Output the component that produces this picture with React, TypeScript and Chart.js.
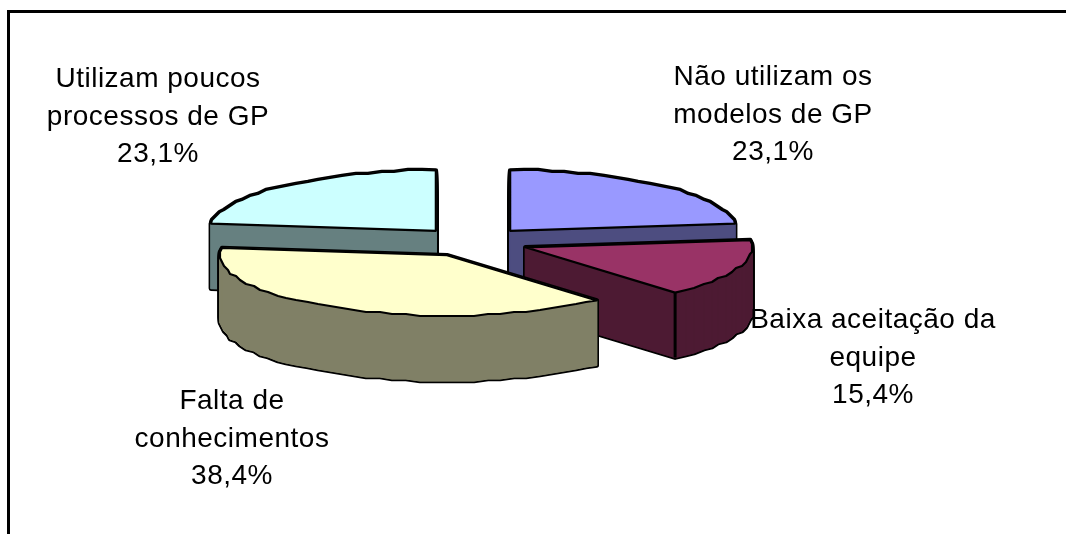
import React, { useEffect, useRef } from "react";
import { Chart, registerables } from "chart.js";

Chart.register(...registerables);

const categories: string[][] = [
  ["Não utilizam os", "modelos de GP"],
  ["Baixa aceitação da", "equipe"],
  ["Falta de", "conhecimentos"],
  ["Utilizam poucos", "processos de GP"],
];
const shares: number[] = [23.1, 15.4, 38.4, 23.1];
const sliceColors: string[] = ["#9999FF", "#993366", "#FFFFCC", "#CCFFFF"];
const wallColors: string[] = ["#4D4D80", "#4D1A33", "#808066", "#668080"];

// layout constants
const W = 1066;
const H = 534;
const CX = 473;
const CY = 242;
const RADIUS = 226.5;
const SQUASH = 0.2665;
const DEPTH = 65;
const EXPLODE = 56;
const GRID = 2; // the rim is slightly stepped like a coarse rendering
const labelCenters: [number, number][] = [
  [773, 85],
  [873, 328],
  [232, 409],
  [158, 87],
];
const LINE_H = 37.5;

const pie3d = {
  id: "pie3d",
  beforeDraw(chart: any) {
    const { ctx } = chart;
    ctx.save();
    ctx.fillStyle = "#ffffff";
    ctx.fillRect(0, 0, W, H);
    ctx.fillStyle = "#000000";
    ctx.fillRect(7, 10, W - 7, 3);
    ctx.fillRect(7, 10, 3, H - 10);
    ctx.restore();
  },
  beforeDatasetsDraw(chart: any) {
    const { ctx } = chart;
    const meta = chart.getDatasetMeta(0);
    const slices = meta.data.map((el: any, i: number) => {
      const mid = (el.startAngle + el.endAngle) / 2;
      const off = el.options.offset;
      const vx = el.x + Math.cos(mid) * off;
      const vy = el.y + Math.sin(mid) * off * SQUASH;
      const pts: [number, number][] = [[vx, vy]];
      const n = Math.max(2, Math.round((el.endAngle - el.startAngle) / 0.06));
      for (let s = 0; s <= n; s++) {
        const a = el.startAngle + ((el.endAngle - el.startAngle) * s) / n;
        let x = vx + Math.cos(a) * el.outerRadius;
        let y = vy + Math.sin(a) * el.outerRadius * SQUASH;
        if (s > 0 && s < n) {
          x = Math.round(x / GRID) * GRID;
          y = Math.round(y / GRID) * GRID;
        }
        pts.push([x, y]);
      }
      return { i, vy, pts, el };
    });
    slices.sort((a: any, b: any) => a.vy - b.vy);

    const trace = (pts: [number, number][], dy: number) => {
      ctx.beginPath();
      pts.forEach(([x, y], k) => (k ? ctx.lineTo(x, y + dy) : ctx.moveTo(x, y + dy)));
      ctx.closePath();
    };

    ctx.save();
    ctx.lineJoin = "round";
    for (const s of slices) {
      // extruded silhouette
      ctx.strokeStyle = "#000000";
      ctx.lineWidth = 4.6;
      for (let d = DEPTH; d >= 0; d--) {
        trace(s.pts, d);
        ctx.stroke();
      }
      ctx.fillStyle = wallColors[s.i];
      ctx.strokeStyle = wallColors[s.i];
      ctx.lineWidth = 0.6;
      for (let d = DEPTH; d >= 0; d--) {
        trace(s.pts, d);
        ctx.fill();
        ctx.stroke();
      }
      // solid wall quads, so the stacked fills leave no seams
      ctx.lineWidth = 1;
      s.pts.forEach((p: [number, number], k: number) => {
        const q: [number, number] = s.pts[(k + 1) % s.pts.length];
        ctx.beginPath();
        ctx.moveTo(p[0], p[1]);
        ctx.lineTo(q[0], q[1]);
        ctx.lineTo(q[0], q[1] + DEPTH);
        ctx.lineTo(p[0], p[1] + DEPTH);
        ctx.closePath();
        ctx.fill();
        ctx.stroke();
      });
      // front-facing corner edge
      const lastA = s.el.endAngle;
      const [lx, ly] = s.pts[s.pts.length - 1];
      if (Math.sin(lastA) > 0) {
        ctx.strokeStyle = "#000000";
        ctx.lineWidth = 3;
        ctx.beginPath();
        ctx.moveTo(lx, ly);
        ctx.lineTo(lx, ly + DEPTH);
        ctx.stroke();
      }
      // top face
      ctx.fillStyle = sliceColors[s.i];
      ctx.strokeStyle = "#000000";
      ctx.lineWidth = 2.2;
      trace(s.pts, 0);
      ctx.fill();
      ctx.stroke();
    }
    ctx.restore();
    return false;
  },
  afterDraw(chart: any) {
    const { ctx } = chart;
    ctx.save();
    ctx.fillStyle = "#000000";
    ctx.font = '28px "Liberation Sans"';
    ctx.textAlign = "center";
    ctx.textBaseline = "alphabetic";
    (ctx as any).letterSpacing = "0.5px";
    categories.forEach((lines, i) => {
      const text = [...lines, shares[i].toFixed(1).replace(".", ",") + "%"];
      const [x, y] = labelCenters[i];
      text.forEach((t, k) => ctx.fillText(t, x, y + k * LINE_H));
    });
    ctx.restore();
  },
};

export default function App() {
  const ref = useRef<HTMLCanvasElement>(null);
  useEffect(() => {
    const chart = new Chart(ref.current!, {
      type: "pie",
      data: {
        labels: categories,
        datasets: [
          {
            data: shares,
            backgroundColor: sliceColors,
            borderColor: "#000000",
            borderWidth: 2,
            offset: EXPLODE,
          },
        ],
      },
      options: {
        responsive: false,
        animation: false,
        radius: RADIUS,
        layout: { padding: { left: 0, top: 0, right: W - 2 * CX, bottom: H - 2 * CY } },
        plugins: { legend: { display: false }, tooltip: { enabled: false } },
      } as any,
      plugins: [pie3d],
    });
    return () => chart.destroy();
  }, []);
  return (
    <canvas
      ref={ref}
      width={W}
      height={H}
      style={{ position: "fixed", left: 0, top: 0, width: W, height: H }}
    />
  );
}
